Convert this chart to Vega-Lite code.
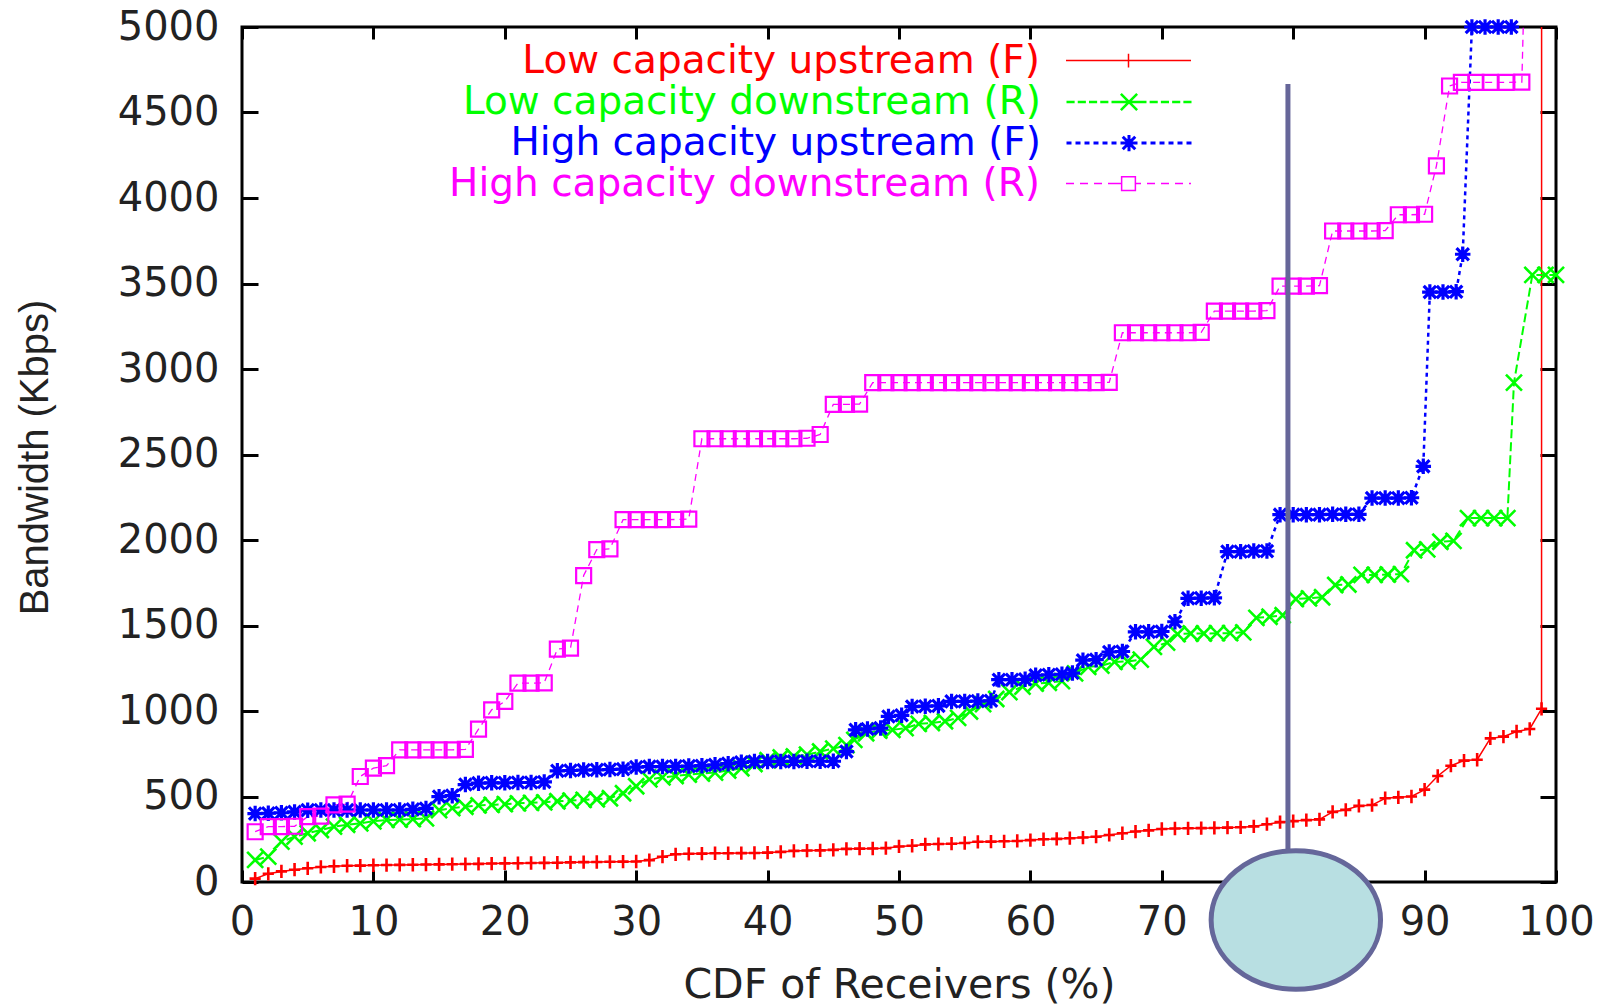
{
  "$schema": "https://vega.github.io/schema/vega-lite/v6.json",
  "width": 1314,
  "height": 855,
  "autosize": {"type": "none"},
  "padding": {"left": 242, "top": 27, "right": 55, "bottom": 125},
  "background": "white",
  "datasets": {
    "lowUp": [{"x":1,"y":20},{"x":2,"y":48},{"x":3,"y":62},{"x":4,"y":72},{"x":5,"y":80},{"x":6,"y":88},{"x":7,"y":92},{"x":8,"y":95},{"x":9,"y":96},{"x":10,"y":98},{"x":11,"y":99},{"x":12,"y":100},{"x":13,"y":101},{"x":14,"y":102},{"x":15,"y":103},{"x":16,"y":104},{"x":17,"y":105},{"x":18,"y":106},{"x":19,"y":108},{"x":20,"y":109},{"x":21,"y":110},{"x":22,"y":111},{"x":23,"y":112},{"x":24,"y":113},{"x":25,"y":115},{"x":26,"y":116},{"x":27,"y":117},{"x":28,"y":118},{"x":29,"y":119},{"x":30,"y":120},{"x":31,"y":128},{"x":32,"y":148},{"x":33,"y":162},{"x":34,"y":165},{"x":35,"y":166},{"x":36,"y":168},{"x":37,"y":168},{"x":38,"y":169},{"x":39,"y":170},{"x":40,"y":172},{"x":41,"y":176},{"x":42,"y":182},{"x":43,"y":184},{"x":44,"y":185},{"x":45,"y":188},{"x":46,"y":194},{"x":47,"y":195},{"x":48,"y":196},{"x":49,"y":198},{"x":50,"y":208},{"x":51,"y":212},{"x":52,"y":220},{"x":53,"y":222},{"x":54,"y":224},{"x":55,"y":228},{"x":56,"y":235},{"x":57,"y":236},{"x":58,"y":238},{"x":59,"y":240},{"x":60,"y":245},{"x":61,"y":250},{"x":62,"y":252},{"x":63,"y":256},{"x":64,"y":260},{"x":65,"y":265},{"x":66,"y":275},{"x":67,"y":285},{"x":68,"y":295},{"x":69,"y":302},{"x":70,"y":310},{"x":71,"y":313},{"x":72,"y":314},{"x":73,"y":315},{"x":74,"y":316},{"x":75,"y":318},{"x":76,"y":320},{"x":77,"y":325},{"x":78,"y":338},{"x":79,"y":350},{"x":80,"y":356},{"x":81,"y":362},{"x":82,"y":366},{"x":83,"y":410},{"x":84,"y":422},{"x":85,"y":445},{"x":86,"y":450},{"x":87,"y":490},{"x":88,"y":495},{"x":89,"y":500},{"x":90,"y":540},{"x":91,"y":620},{"x":92,"y":680},{"x":93,"y":710},{"x":94,"y":715},{"x":95,"y":840},{"x":96,"y":850},{"x":97,"y":880},{"x":98,"y":895},{"x":98.9,"y":1013},{"x":98.92,"y":20000}],
    "lowDown": [{"x":1,"y":129},{"x":2,"y":148},{"x":3,"y":236},{"x":4,"y":265},{"x":5,"y":285},{"x":6,"y":304},{"x":7,"y":324},{"x":8,"y":335},{"x":9,"y":343},{"x":10,"y":355},{"x":11,"y":363},{"x":12,"y":365},{"x":13,"y":368},{"x":14,"y":372},{"x":15,"y":420},{"x":16,"y":432},{"x":17,"y":440},{"x":18,"y":448},{"x":19,"y":451},{"x":20,"y":455},{"x":21,"y":460},{"x":22,"y":463},{"x":23,"y":466},{"x":24,"y":472},{"x":25,"y":476},{"x":26,"y":480},{"x":27,"y":484},{"x":28,"y":490},{"x":29,"y":519},{"x":30,"y":560},{"x":31,"y":600},{"x":32,"y":612},{"x":33,"y":620},{"x":34,"y":628},{"x":35,"y":634},{"x":36,"y":640},{"x":37,"y":652},{"x":38,"y":665},{"x":39,"y":690},{"x":40,"y":712},{"x":41,"y":728},{"x":42,"y":734},{"x":43,"y":745},{"x":44,"y":763},{"x":45,"y":780},{"x":46,"y":800},{"x":46.6,"y":831},{"x":47.5,"y":870},{"x":48.5,"y":885},{"x":49.5,"y":890},{"x":50.5,"y":900},{"x":51.5,"y":925},{"x":52.5,"y":930},{"x":53.5,"y":940},{"x":54.5,"y":960},{"x":55.4,"y":997},{"x":56.4,"y":1040},{"x":57.4,"y":1070},{"x":58.4,"y":1110},{"x":59.4,"y":1143},{"x":60.4,"y":1160},{"x":61.4,"y":1165},{"x":62.4,"y":1175},{"x":63.4,"y":1220},{"x":64.4,"y":1258},{"x":65.4,"y":1265},{"x":66.4,"y":1287},{"x":67.4,"y":1290},{"x":68.4,"y":1300},{"x":69.4,"y":1375},{"x":70.4,"y":1400},{"x":71.2,"y":1450},{"x":72.2,"y":1453},{"x":73.2,"y":1453},{"x":74.2,"y":1455},{"x":75.2,"y":1455},{"x":76.2,"y":1460},{"x":77.2,"y":1545},{"x":78.2,"y":1551},{"x":79.2,"y":1560},{"x":80.2,"y":1655},{"x":81.2,"y":1659},{"x":82.2,"y":1665},{"x":83.2,"y":1737},{"x":84.2,"y":1740},{"x":85.2,"y":1796},{"x":86.2,"y":1796},{"x":87.2,"y":1798},{"x":88.2,"y":1800},{"x":89.2,"y":1940},{"x":90.2,"y":1945},{"x":91.2,"y":1990},{"x":92.2,"y":1995},{"x":93.3,"y":2128},{"x":94.3,"y":2128},{"x":95.3,"y":2128},{"x":96.3,"y":2128},{"x":96.8,"y":2920},{"x":98.2,"y":3550},{"x":99.2,"y":3550},{"x":100,"y":3550}],
    "highUp": [{"x":1,"y":400},{"x":2,"y":402},{"x":3,"y":405},{"x":4,"y":410},{"x":5,"y":420},{"x":6,"y":421},{"x":7,"y":421},{"x":8,"y":421},{"x":9,"y":421},{"x":10,"y":421},{"x":11,"y":421},{"x":12,"y":421},{"x":13,"y":425},{"x":14,"y":430},{"x":15,"y":499},{"x":16,"y":505},{"x":17,"y":570},{"x":18,"y":578},{"x":19,"y":580},{"x":20,"y":580},{"x":21,"y":582},{"x":22,"y":582},{"x":23,"y":585},{"x":24,"y":650},{"x":25,"y":652},{"x":26,"y":655},{"x":27,"y":656},{"x":28,"y":658},{"x":29,"y":660},{"x":30,"y":672},{"x":31,"y":675},{"x":32,"y":675},{"x":33,"y":676},{"x":34,"y":678},{"x":35,"y":680},{"x":36,"y":685},{"x":37,"y":692},{"x":38,"y":700},{"x":39,"y":704},{"x":40,"y":704},{"x":41,"y":705},{"x":42,"y":705},{"x":43,"y":706},{"x":44,"y":706},{"x":45,"y":706},{"x":46,"y":763},{"x":46.7,"y":890},{"x":47.6,"y":895},{"x":48.6,"y":900},{"x":49.2,"y":968},{"x":50.2,"y":975},{"x":51,"y":1026},{"x":52,"y":1028},{"x":53,"y":1030},{"x":54,"y":1056},{"x":55,"y":1056},{"x":56,"y":1058},{"x":57,"y":1060},{"x":57.6,"y":1183},{"x":58.6,"y":1183},{"x":59.6,"y":1185},{"x":60.4,"y":1209},{"x":61.4,"y":1212},{"x":62.4,"y":1215},{"x":63.2,"y":1222},{"x":64,"y":1297},{"x":65,"y":1300},{"x":66,"y":1345},{"x":67,"y":1348},{"x":68,"y":1463},{"x":69,"y":1463},{"x":70,"y":1465},{"x":71,"y":1522},{"x":72,"y":1659},{"x":73,"y":1660},{"x":74,"y":1662},{"x":75,"y":1932},{"x":76,"y":1932},{"x":77,"y":1935},{"x":78,"y":1935},{"x":79,"y":2148},{"x":80,"y":2148},{"x":81,"y":2148},{"x":82,"y":2148},{"x":83,"y":2150},{"x":84,"y":2150},{"x":85,"y":2150},{"x":86,"y":2245},{"x":87,"y":2245},{"x":88,"y":2245},{"x":89,"y":2247},{"x":89.9,"y":2431},{"x":90.4,"y":3450},{"x":91.4,"y":3450},{"x":92.4,"y":3452},{"x":92.9,"y":3671},{"x":93.6,"y":5000},{"x":94.6,"y":5000},{"x":95.6,"y":5000},{"x":96.6,"y":5000}],
    "highDown": [{"x":1,"y":294},{"x":2,"y":324},{"x":3,"y":324},{"x":4,"y":326},{"x":5,"y":382},{"x":6,"y":385},{"x":7,"y":451},{"x":8,"y":455},{"x":9,"y":617},{"x":10,"y":666},{"x":11,"y":680},{"x":12,"y":773},{"x":13,"y":773},{"x":14,"y":773},{"x":15,"y":773},{"x":16,"y":773},{"x":17,"y":775},{"x":18,"y":894},{"x":19,"y":1007},{"x":20,"y":1056},{"x":21,"y":1163},{"x":22,"y":1163},{"x":23,"y":1165},{"x":24,"y":1362},{"x":25,"y":1368},{"x":26,"y":1792},{"x":27,"y":1944},{"x":28,"y":1948},{"x":29,"y":2119},{"x":30,"y":2119},{"x":31,"y":2119},{"x":32,"y":2119},{"x":33,"y":2120},{"x":34,"y":2122},{"x":35,"y":2592},{"x":36,"y":2592},{"x":37,"y":2592},{"x":38,"y":2592},{"x":39,"y":2592},{"x":40,"y":2592},{"x":41,"y":2592},{"x":42,"y":2592},{"x":43,"y":2595},{"x":44,"y":2617},{"x":45,"y":2793},{"x":46,"y":2793},{"x":47,"y":2795},{"x":48,"y":2920},{"x":49,"y":2920},{"x":50,"y":2920},{"x":51,"y":2920},{"x":52,"y":2920},{"x":53,"y":2920},{"x":54,"y":2920},{"x":55,"y":2920},{"x":56,"y":2920},{"x":57,"y":2920},{"x":58,"y":2920},{"x":59,"y":2920},{"x":60,"y":2920},{"x":61,"y":2920},{"x":62,"y":2920},{"x":63,"y":2920},{"x":64,"y":2920},{"x":65,"y":2920},{"x":66,"y":2922},{"x":67,"y":3212},{"x":68,"y":3212},{"x":69,"y":3212},{"x":70,"y":3212},{"x":71,"y":3212},{"x":72,"y":3212},{"x":73,"y":3214},{"x":74,"y":3339},{"x":75,"y":3339},{"x":76,"y":3339},{"x":77,"y":3339},{"x":78,"y":3341},{"x":79,"y":3485},{"x":80,"y":3485},{"x":81,"y":3485},{"x":82,"y":3487},{"x":83,"y":3807},{"x":84,"y":3807},{"x":85,"y":3807},{"x":86,"y":3807},{"x":87,"y":3809},{"x":88,"y":3902},{"x":89,"y":3902},{"x":90,"y":3905},{"x":90.9,"y":4188},{"x":91.9,"y":4655},{"x":92.8,"y":4676},{"x":93.9,"y":4676},{"x":95,"y":4676},{"x":96.2,"y":4676},{"x":97.4,"y":4678},{"x":98,"y":6500}],
    "guideLine": [{"x":79.6,"y":4666,"y2":150}],
    "callout": [{"x":80.2,"y":-222}]
  },
  "encoding": {
    "x": {"field": "x", "type": "quantitative", "scale": {"domain": [0, 100], "nice": false, "zero": false}, "axis": null},
    "y": {"field": "y", "type": "quantitative", "scale": {"domain": [0, 5000], "nice": false, "zero": false}, "axis": null}
  },
  "layer": [
    {
      "data": {"name": "lowUp"},
      "mark": {"type": "line", "color": "#ff0000", "strokeWidth": 1.5, "clip": true},
      "encoding": {
        "x": {"field": "x", "type": "quantitative", "scale": {"domain": [0, 100], "nice": false, "zero": false},
          "axis": {"orient": "bottom", "values": [0,10,20,30,40,50,60,70,80,90,100], "format": "d", "title": "CDF of Receivers (%)", "tickSize": -12, "labelPadding": 52.6, "labelBaseline": "middle", "titleX": 657, "titleY": 103, "titleBaseline": "middle", "titleAlign": "center", "titleFont": "DejaVu Sans", "titleFontSize": 41}},
        "y": {"field": "y", "type": "quantitative", "scale": {"domain": [0, 5000], "nice": false, "zero": false},
          "axis": {"orient": "left", "values": [0,500,1000,1500,2000,2500,3000,3500,4000,4500,5000], "format": "d", "title": "Bandwidth (Kbps)", "tickSize": -16, "labelPadding": 39, "labelAlign": "right", "labelBaseline": "middle", "titleX": -207, "titleY": 430, "titleAngle": 270, "titleBaseline": "middle", "titleAlign": "center", "titleFont": "Liberation Sans", "titleFontSize": 40}}
      }
    },
    {
      "data": {"name": "lowDown"},
      "mark": {"type": "line", "color": "#00ff00", "strokeWidth": 2, "strokeDash": [9, 4], "clip": true},
      "encoding": {
        "x": {"field": "x", "type": "quantitative", "scale": {"domain": [0, 100], "nice": false, "zero": false},
          "axis": {"orient": "top", "values": [0,10,20,30,40,50,60,70,80,90,100], "title": null, "labels": false, "tickSize": -12}},
        "y": {"field": "y", "type": "quantitative", "scale": {"domain": [0, 5000], "nice": false, "zero": false},
          "axis": {"orient": "right", "values": [0,500,1000,1500,2000,2500,3000,3500,4000,4500,5000], "title": null, "labels": false, "tickSize": -16}}
      }
    },
    {"data": {"name": "highUp"}, "mark": {"type": "line", "color": "#0000ff", "strokeWidth": 2.5, "strokeDash": [4, 4], "clip": true}},
    {"data": {"name": "highDown"}, "mark": {"type": "line", "color": "#ff00ff", "strokeWidth": 1.3, "strokeDash": [7, 5], "clip": true}},
    {"data": {"name": "lowUp"}, "transform": [{"filter": "datum.y <= 5000"}], "mark": {"type": "point", "shape": "M-0.8,0H0.8M0,-0.95V0.95", "size": 196, "filled": false, "color": "#ff0000", "strokeWidth": 2.6, "opacity": 1}},
    {"data": {"name": "lowDown"}, "transform": [{"filter": "datum.y <= 5000"}], "mark": {"type": "point", "shape": "M-1,-1L1,1M-1,1L1,-1", "size": 256, "filled": false, "color": "#00ff00", "strokeWidth": 2.6, "opacity": 1}},
    {"data": {"name": "highUp"}, "transform": [{"filter": "datum.y <= 5000"}], "mark": {"type": "point", "shape": "M-1,0H1M0,-1V1M-0.8,-0.8L0.8,0.8M-0.8,0.8L0.8,-0.8", "size": 240, "filled": false, "color": "#0000ff", "strokeWidth": 3.2, "opacity": 1}},
    {"data": {"name": "highDown"}, "transform": [{"filter": "datum.y <= 5000"}], "mark": {"type": "point", "shape": "M-1,-1H1V1H-1Z", "size": 225, "filled": false, "color": "#ff00ff", "strokeWidth": 2.2, "opacity": 1}},
    {
      "data": {"name": "guideLine"},
      "mark": {"type": "rule", "color": "#666699", "strokeWidth": 5, "clip": false},
      "encoding": {"y2": {"field": "y2"}}
    },
    {
      "data": {"name": "callout"},
      "mark": {"type": "point", "shape": "M-1,0A1,0.818 0 1,0 1,0A1,0.818 0 1,0 -1,0Z", "size": 28700, "filled": true, "fill": "#b8dfe2", "stroke": "#65679a", "strokeWidth": 5, "opacity": 1, "fillOpacity": 1, "clip": false}
    },
    {
      "data": {"name": "lowUp"}, "transform": [{"filter": "datum.x === 1"}],
      "mark": {"type": "point", "opacity": 0, "filled": false, "stroke": "#ff0000", "fill": "transparent", "strokeWidth": 1.5},
      "encoding": {"shape": {"datum": "Low capacity upstream (F)", "type": "nominal",
        "scale": {"domain": ["Low capacity upstream (F)"], "range": ["M-1,0H1M0,-0.11V0.11"]},
        "legend": {"orient": "none", "legendX": 823, "legendY": -30, "title": null, "padding": 0, "symbolSize": 15625, "symbolStrokeWidth": 1.5, "symbolStrokeColor": "#ff0000", "symbolFillColor": "transparent", "symbolOpacity": 1, "symbolOffset": 0, "labelAlign": "right", "labelBaseline": "middle", "labelOffset": -152, "labelFont": "DejaVu Sans", "labelFontSize": 39, "labelColor": "#ff0000", "labelLimit": 1000}}}
    },
    {
      "data": {"name": "lowDown"}, "transform": [{"filter": "datum.x === 1"}],
      "mark": {"type": "point", "opacity": 0, "filled": false, "stroke": "#00ff00", "fill": "transparent", "strokeWidth": 2.5},
      "encoding": {"shape": {"datum": "Low capacity downstream (R)", "type": "nominal",
        "scale": {"domain": ["Low capacity downstream (R)"], "range": ["M-1,0H-0.87M-0.82,0H-0.69M-0.64,0H-0.51M-0.46,0H-0.33M-0.28,0H0.28M0.33,0H0.46M0.51,0H0.64M0.69,0H0.82M0.87,0H1M-0.13,-0.13L0.13,0.13M-0.13,0.13L0.13,-0.13"]},
        "legend": {"orient": "none", "legendX": 823, "legendY": 11, "title": null, "padding": 0, "symbolSize": 15625, "symbolStrokeWidth": 2.5, "symbolStrokeColor": "#00ff00", "symbolFillColor": "transparent", "symbolOpacity": 1, "symbolOffset": 0, "labelAlign": "right", "labelBaseline": "middle", "labelOffset": -152, "labelFont": "DejaVu Sans", "labelFontSize": 39, "labelColor": "#00ff00", "labelLimit": 1000}}}
    },
    {
      "data": {"name": "highUp"}, "transform": [{"filter": "datum.x === 1"}],
      "mark": {"type": "point", "opacity": 0, "filled": false, "stroke": "#0000ff", "fill": "transparent", "strokeWidth": 3},
      "encoding": {"shape": {"datum": "High capacity upstream (F)", "type": "nominal",
        "scale": {"domain": ["High capacity upstream (F)"], "range": ["M-1,0H-0.92M-0.856,0H-0.776M-0.712,0H-0.632M-0.568,0H-0.488M-0.424,0H-0.344M-0.28,0H-0.2M-0.136,0H0.136M0.2,0H0.28M0.344,0H0.424M0.488,0H0.568M0.632,0H0.712M0.776,0H0.856M0.92,0H1M0,-0.13V0.13M-0.1,-0.1L0.1,0.1M-0.1,0.1L0.1,-0.1"]},
        "legend": {"orient": "none", "legendX": 823, "legendY": 52, "title": null, "padding": 0, "symbolSize": 15625, "symbolStrokeWidth": 3, "symbolStrokeColor": "#0000ff", "symbolFillColor": "transparent", "symbolOpacity": 1, "symbolOffset": 0, "labelAlign": "right", "labelBaseline": "middle", "labelOffset": -152, "labelFont": "DejaVu Sans", "labelFontSize": 39, "labelColor": "#0000ff", "labelLimit": 1000}}}
    },
    {
      "data": {"name": "highDown"}, "transform": [{"filter": "datum.x === 1"}],
      "mark": {"type": "point", "opacity": 0, "filled": false, "stroke": "#ff00ff", "fill": "transparent", "strokeWidth": 1.5},
      "encoding": {"shape": {"datum": "High capacity downstream (R)", "type": "nominal",
        "scale": {"domain": ["High capacity downstream (R)"], "range": ["M-1,0H-0.872M-0.776,0H-0.648M-0.552,0H-0.424M-0.328,0H-0.2M-0.2,0H-0.11M0.11,0H0.2M0.296,0H0.424M0.52,0H0.648M0.744,0H0.872M0.968,0H1M-0.11,-0.11H0.11V0.11H-0.11Z"]},
        "legend": {"orient": "none", "legendX": 823, "legendY": 93, "title": null, "padding": 0, "symbolSize": 15625, "symbolStrokeWidth": 1.5, "symbolStrokeColor": "#ff00ff", "symbolFillColor": "transparent", "symbolOpacity": 1, "symbolOffset": 0, "labelAlign": "right", "labelBaseline": "middle", "labelOffset": -152, "labelFont": "DejaVu Sans", "labelFontSize": 39, "labelColor": "#ff00ff", "labelLimit": 1000}}}
    }
  ],
  "resolve": {
    "scale": {"shape": "independent"},
    "axis": {"x": "independent", "y": "independent"},
    "legend": {"shape": "independent"}
  },
  "config": {
    "view": {"stroke": "#000000", "strokeWidth": 3},
    "axis": {"grid": false, "domain": false, "ticks": true, "tickColor": "#000000", "tickWidth": 3, "labelFont": "DejaVu Sans", "labelFontSize": 40, "labelColor": "#222222", "titleColor": "#222222", "titleFontWeight": "normal", "labelOverlap": false, "labelFlush": false, "labelBound": false, "zindex": 0}
  }
}
